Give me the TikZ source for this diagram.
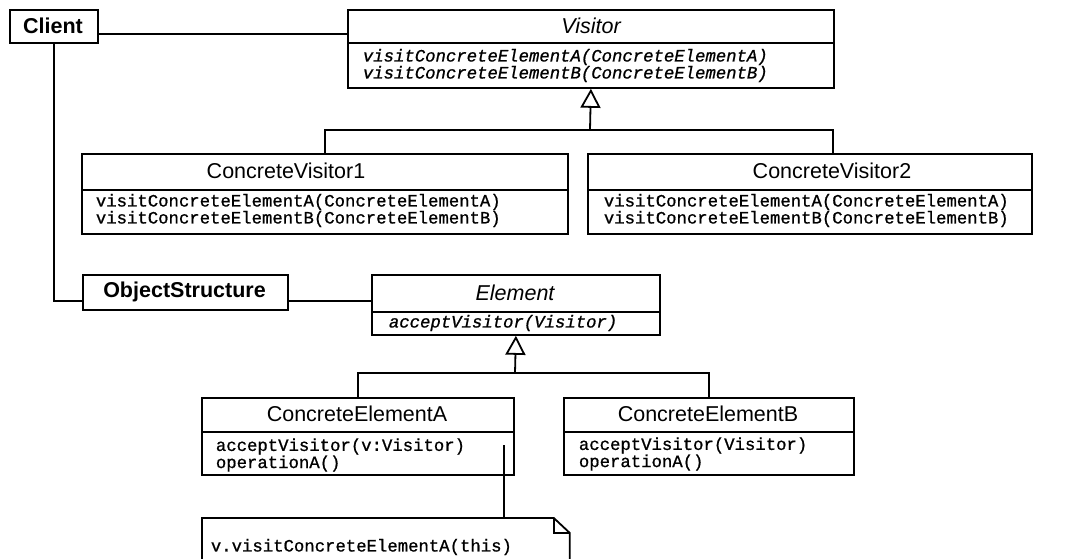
\documentclass[tikz,border=0pt]{standalone}
\usepackage{fontspec}
\setmainfont{Liberation Sans}
\setmonofont{Liberation Mono}[FakeBold=0.9]
\usetikzlibrary{arrows.meta}
\begin{document}
\begin{tikzpicture}[x=1pt,y=-1pt,
  line width=1.8pt,
  box/.style={draw, line width=1.8pt, inner sep=0pt, anchor=north west, fill=white},
  cname/.style={inner sep=0pt, font=\fontsize{21.5}{24}\selectfont},
  meth/.style={inner sep=0pt, anchor=west, align=left,
               font=\fontsize{17.3}{17}\selectfont\ttfamily},
  gen/.style={-{Triangle[length=19pt,width=20pt,fill=white]}}
]
\clip (0,0) rectangle (1071,559);
\fill[white] (0,0) rectangle (1071,559);

% class boxes: header compartment and operations compartment
\node[box, minimum width=88pt,  minimum height=33pt] (client) at (9,9) {};
\node[box, minimum width=486pt, minimum height=33pt] (vh)  at (347,9) {};
\node[box, minimum width=486pt, minimum height=45pt] (vm)  at (347,42) {};
\node[box, minimum width=486pt, minimum height=36pt] (c1h) at (81,153) {};
\node[box, minimum width=486pt, minimum height=44pt] (c1m) at (81,189) {};
\node[box, minimum width=444pt, minimum height=36pt] (c2h) at (587,153) {};
\node[box, minimum width=444pt, minimum height=44pt] (c2m) at (587,189) {};
\node[box, minimum width=205pt, minimum height=35pt] (os)  at (82,274) {};
\node[box, minimum width=288pt, minimum height=37pt] (eh)  at (371,274) {};
\node[box, minimum width=288pt, minimum height=23pt] (em)  at (371,311) {};
\node[box, minimum width=312pt, minimum height=34pt] (cah) at (201,397) {};
\node[box, minimum width=312pt, minimum height=43pt] (cam) at (201,431) {};
\node[box, minimum width=290pt, minimum height=34pt] (cbh) at (563,397) {};
\node[box, minimum width=290pt, minimum height=43pt] (cbm) at (563,431) {};
\node[inner sep=0pt, anchor=north west, minimum width=366pt, minimum height=60pt] (note) at (202,518) {};

% class names
\node[cname, font=\fontsize{21.5}{24}\selectfont\bfseries] (tclient) at (53,26) {Client};
\node[cname, font=\fontsize{21.5}{24}\selectfont\itshape] (tvisitor) at (591,26) {Visitor};
\node[cname] (tcv1) at (286,171) {ConcreteVisitor1};
\node[cname] (tcv2) at (832,171) {ConcreteVisitor2};
\node[cname, font=\fontsize{21.5}{24}\selectfont\bfseries] (tos) at (184.5,292) {ObjectStructure};
\node[cname, font=\fontsize{21.5}{24}\selectfont\itshape] (telement) at (515,293) {Element};
\node[cname] (tcea) at (357,414) {ConcreteElementA};
\node[cname] (tceb) at (708,414) {ConcreteElementB};

% operations
\node[meth, font=\fontsize{17.3}{17}\selectfont\ttfamily\itshape] (mv) at (362,65.5)
  {visitConcreteElementA(ConcreteElementA)\\visitConcreteElementB(ConcreteElementB)};
\node[meth] (mc1) at (95,210.5)
  {visitConcreteElementA(ConcreteElementA)\\visitConcreteElementB(ConcreteElementB)};
\node[meth] (mc2) at (603,210.5)
  {visitConcreteElementA(ConcreteElementA)\\visitConcreteElementB(ConcreteElementB)};
\node[meth, font=\fontsize{17.3}{17}\selectfont\ttfamily\itshape] (me) at (388,323)
  {acceptVisitor(Visitor)};
\node[meth, font=\fontsize{17.3}{15.5}\selectfont\ttfamily] (mca) at (215,455)
  {acceptVisitor(v:Visitor)\\operationA()};
\node[meth, font=\fontsize{17.3}{15.5}\selectfont\ttfamily] (mcb) at (578,454)
  {acceptVisitor(Visitor)\\operationA()};

% note with folded corner
\draw (note.north west) -- ([xshift=-16pt]note.north east)
      -- ([yshift=-15pt]note.north east) -- (note.south east)
      -- (note.south west) -- cycle;
\draw ([xshift=-16pt]note.north east) |- ([yshift=-15pt]note.north east);
\node[meth] (tnote) at (210,547) {v.visitConcreteElementA(this)};

% associations
\coordinate (cv) at ([yshift=-7.5pt]client.east);
\draw (cv) -- (cv -| vh.west);
\coordinate (co) at ([yshift=-8.5pt]os.west);
\draw (client.south) |- (co);
\draw (co -| os.east) -- (co -| eh.west);

% generalisations
\coordinate (vjoin) at (590,130);
\draw (c1h.north) |- (vjoin);
\draw ([xshift=23pt]c2h.north) |- (vjoin);
\draw[gen] (vjoin) -- (vm.south);

\coordinate (ejoin) at (515,373);
\draw (cah.north) |- (ejoin);
\draw (cbh.north) |- (ejoin);
\draw[gen] (ejoin) -- (em.south);

% note attachment
\coordinate (nanchor) at (504,445);
\draw (nanchor) -- (nanchor |- note.north);
\end{tikzpicture}
\end{document}
